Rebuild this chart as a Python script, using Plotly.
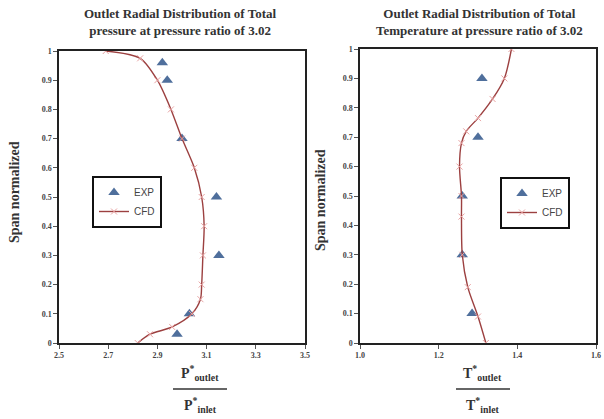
import plotly.graph_objects as go

# ---- data ----
left_exp_x = [2.92, 2.94, 3.00, 3.14, 3.15, 3.03, 2.98]
left_exp_y = [0.96, 0.90, 0.70, 0.50, 0.30, 0.10, 0.03]

left_cfd_y = [1.0, 0.975, 0.90, 0.80, 0.70, 0.60, 0.50, 0.40, 0.30, 0.20, 0.15, 0.10, 0.055, 0.03, 0.0]
left_cfd_x = [2.69, 2.83, 2.90, 2.955, 3.00, 3.05, 3.08, 3.09, 3.085, 3.08, 3.075, 3.04, 2.96, 2.87, 2.82]

right_exp_x = [1.31, 1.30, 1.26, 1.26, 1.285]
right_exp_y = [0.9, 0.7, 0.5, 0.3, 0.1]

right_cfd_y = [1.0, 0.9, 0.83, 0.765, 0.72, 0.68, 0.6, 0.5, 0.43, 0.3, 0.19, 0.09, 0.0]
right_cfd_x = [1.385, 1.367, 1.337, 1.30, 1.27, 1.258, 1.253, 1.258, 1.258, 1.26, 1.274, 1.30, 1.32]

left_xticks = [2.5, 2.7, 2.9, 3.1, 3.3, 3.5]
right_xticks = [1.0, 1.2, 1.4, 1.6]
yticks = [0, 0.1, 0.2, 0.3, 0.4, 0.5, 0.6, 0.7, 0.8, 0.9, 1]
ytick_text = ["0", "0.1", "0.2", "0.3", "0.4", "0.5", "0.6", "0.7", "0.8", "0.9", "1"]

EXP_COLOR = "#4f6f9c"
CFD_COLOR = "#9c4040"
CFD_MARK = "#e8a3a3"
SERIF = "Liberation Serif"
SANS = "Liberation Sans"

fig = go.Figure()

fig.add_trace(go.Scatter(x=left_exp_x, y=left_exp_y, mode="markers", name="EXP",
                         marker=dict(symbol="triangle-up", size=10, color=EXP_COLOR),
                         xaxis="x", yaxis="y", legend="legend"))
fig.add_trace(go.Scatter(x=left_cfd_x, y=left_cfd_y, mode="lines+markers", name="CFD",
                         line=dict(color=CFD_COLOR, width=1.4, shape="spline", smoothing=0.8),
                         marker=dict(symbol="x-thin", size=6, line=dict(color=CFD_MARK, width=1)),
                         xaxis="x", yaxis="y", legend="legend"))
fig.add_trace(go.Scatter(x=right_exp_x, y=right_exp_y, mode="markers", name="EXP",
                         marker=dict(symbol="triangle-up", size=10, color=EXP_COLOR),
                         xaxis="x2", yaxis="y2", legend="legend2"))
fig.add_trace(go.Scatter(x=right_cfd_x, y=right_cfd_y, mode="lines+markers", name="CFD",
                         line=dict(color=CFD_COLOR, width=1.4, shape="spline", smoothing=0.8),
                         marker=dict(symbol="x-thin", size=6, line=dict(color=CFD_MARK, width=1)),
                         xaxis="x2", yaxis="y2", legend="legend2"))

axis_common = dict(showgrid=False, zeroline=False, showline=True, linecolor="#222222",
                   linewidth=1.5, mirror=True, ticks="outside", ticklen=4, tickcolor="#555555",
                   automargin=False, ticklabeloverflow="allow",
                   tickfont=dict(family=SERIF, size=8, color="#444444", weight="bold"))

fig.update_layout(
    template="none",
    width=604, height=419,
    margin=dict(l=0, r=0, t=0, b=0, pad=0),
    paper_bgcolor="white", plot_bgcolor="white",
    xaxis=dict(domain=[59/604, 305/604], range=[2.5, 3.5], tickvals=left_xticks,
               ticktext=["2.5", "2.7", "2.9", "3.1", "3.3", "3.5"], anchor="y", **axis_common),
    yaxis=dict(domain=[(419-343)/419, (419-51)/419], range=[0, 1], tickvals=yticks,
               ticktext=ytick_text, anchor="x", **axis_common),
    xaxis2=dict(domain=[360/604, 596/604], range=[1.0, 1.6], tickvals=right_xticks,
                ticktext=["1.0", "1.2", "1.4", "1.6"], anchor="y2", **axis_common),
    yaxis2=dict(domain=[(419-343)/419, (419-49)/419], range=[0, 1], tickvals=yticks,
                ticktext=ytick_text, anchor="x2", **axis_common),
    legend=dict(x=92/604, y=(419-176)/419, xanchor="left", yanchor="top",
                bordercolor="#111111", borderwidth=2, bgcolor="white",
                font=dict(family=SANS, size=10, color="#444444"), tracegroupgap=2),
    legend2=dict(x=500/604, y=(419-177)/419, xanchor="left", yanchor="top",
                 bordercolor="#111111", borderwidth=2, bgcolor="white",
                 font=dict(family=SANS, size=10, color="#444444"), tracegroupgap=2),
    showlegend=True,
)

ann = []
title_font = dict(family=SERIF, size=13, color="#333333")
ann.append(dict(text="<b>Outlet Radial Distribution of Total<br>pressure at pressure ratio of 3.02</b>",
                x=180/604, y=1-4/419, xref="paper", yref="paper", xanchor="center", yanchor="top",
                showarrow=False, font=title_font))
ann.append(dict(text="<b>Outlet Radial Distribution of Total<br>Temperature at pressure ratio of 3.02</b>",
                x=479/604, y=1-4/419, xref="paper", yref="paper", xanchor="center", yanchor="top",
                showarrow=False, font=title_font))
yt_font = dict(family=SERIF, size=14, color="#333333")
ann.append(dict(text="<b>Span normalized</b>", x=15/604, y=(419-192)/419, xref="paper", yref="paper",
                textangle=-90, showarrow=False, font=yt_font, xanchor="center", yanchor="middle"))
ann.append(dict(text="<b>Span normalized</b>", x=320/604, y=(419-200)/419, xref="paper", yref="paper",
                textangle=-90, showarrow=False, font=yt_font, xanchor="center", yanchor="middle"))
frac_font = dict(family=SERIF, size=14, color="#333333")
for cx, sym, lx0, lx1, ny, ly, dy in [(200, "P", 173, 227, 373, 389, 405), (482, "T", 456, 510, 373, 389, 405)]:
    ann.append(dict(text="<b>%s<sup>*</sup><sub>outlet</sub></b>" % sym, x=cx/604, y=(419-ny)/419,
                    xref="paper", yref="paper", showarrow=False, font=frac_font,
                    xanchor="center", yanchor="middle"))
    ann.append(dict(text="<b>%s<sup>*</sup><sub>inlet</sub></b>" % sym, x=cx/604, y=(419-dy)/419,
                    xref="paper", yref="paper", showarrow=False, font=frac_font,
                    xanchor="center", yanchor="middle"))
    fig.add_shape(type="line", xref="paper", yref="paper", x0=lx0/604, x1=lx1/604,
                  y0=(419-ly)/419, y1=(419-ly)/419, line=dict(color="#333333", width=1.5))
fig.update_layout(annotations=ann)

fig.write_html("out.html", config={"displayModeBar": False},
               post_script="document.body.style.margin='0';document.body.style.overflow='hidden';")
